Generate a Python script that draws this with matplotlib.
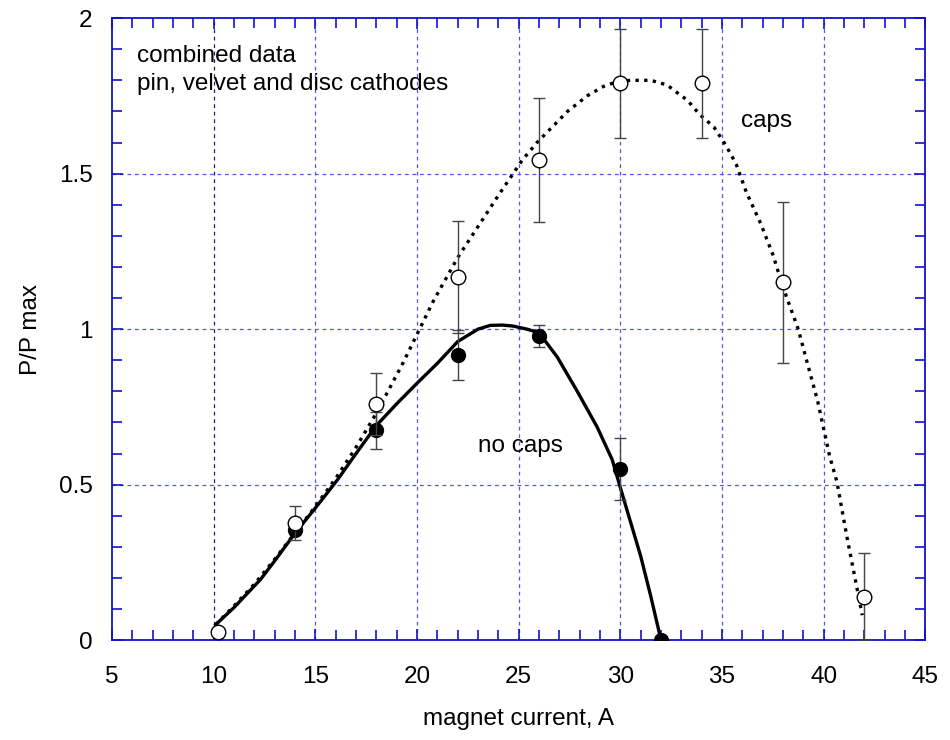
import matplotlib
matplotlib.use("Agg")
import matplotlib.pyplot as plt
from matplotlib.ticker import MultipleLocator, FixedLocator

plt.rcParams['font.family'] = ['Liberation Sans', 'DejaVu Sans']

# measured points
x_caps = [10.2, 14, 18, 22, 26, 30, 34, 38, 42]
y_caps = [0.026, 0.376, 0.76, 1.167, 1.543, 1.79, 1.79, 1.15, 0.14]
err_caps = [0.0, 0.055, 0.10, 0.18, 0.20, 0.175, 0.175, 0.26, 0.14]

x_nocaps = [14, 18, 22, 26, 30, 32]
y_nocaps = [0.354, 0.675, 0.916, 0.977, 0.55, 0.0]
err_nocaps = [0.0, 0.06, 0.08, 0.035, 0.10, 0.0]

# fitted curves
fit_caps_x = [10.1, 11, 12, 13, 14, 15, 16, 17, 18, 19.3, 20.8, 22, 23, 24, 24.58, 25.17,
              25.9, 26.65, 27.4, 28.37, 29.16, 29.8, 30.5, 31.5, 32.3, 32.8, 33.3, 33.9, 34.6,
              35.2, 35.7, 36.2, 36.9, 37.5, 38, 38.75, 39.2, 39.7, 40.3, 40.65, 41.15, 41.6, 41.9]
fit_caps_y = [0.05, 0.11, 0.18, 0.26, 0.345, 0.43, 0.52, 0.62, 0.73, 0.89, 1.09, 1.23, 1.33, 1.43, 1.486, 1.543,
              1.60, 1.65, 1.70, 1.75, 1.78, 1.795, 1.80, 1.80, 1.785, 1.76, 1.736, 1.69, 1.65,
              1.59, 1.53, 1.44, 1.34, 1.24, 1.135, 1.0, 0.89, 0.77, 0.59, 0.51, 0.33, 0.18, 0.08]

fit_nocaps_x = [10.1, 11, 12.3, 13, 14, 15, 16.07, 17, 18, 19, 20, 21, 22, 23, 23.6, 24.2, 24.7,
                25.4, 26, 26.9, 27.88, 28.86, 29.6, 30, 30.5, 31, 31.5, 32]
fit_nocaps_y = [0.05, 0.105, 0.195, 0.255, 0.344, 0.425, 0.514, 0.60, 0.69, 0.76, 0.826, 0.89, 0.96, 1.0, 1.012, 1.013, 1.01,
                1.0, 0.988, 0.91, 0.80, 0.685, 0.58, 0.49, 0.38, 0.27, 0.14, 0.0]

xticks = [5, 10, 15, 20, 25, 30, 35, 40, 45]
yticks = [0, 0.5, 1, 1.5, 2]
ytick_labels = ['0', '0.5', '1', '1.5', '2']

blue = '#1010d0'
grid_blue = '#5555ea'
FS = 17.5

fig = plt.figure(figsize=(9.5, 7.4), dpi=100)
ax = fig.add_axes([0.118, 0.135, 0.856, 0.8405])
ax.set_xlim(5, 45)
ax.set_ylim(0, 2)

# grid
for gx in [10, 15, 20, 25, 30, 35, 40]:
    ax.axvline(gx, color=grid_blue if gx != 10 else '#20205a', lw=0.9, ls=(0, (3, 3)), zorder=1)
for gy in [0.5, 1.0, 1.5]:
    ax.axhline(gy, color=grid_blue, lw=0.9, ls=(0, (3, 3)), zorder=1)

ax.plot(fit_caps_x, fit_caps_y, color='black', lw=2.4, ls=(0, (1, 1.6)), zorder=3)
ax.plot(fit_nocaps_x, fit_nocaps_y, color='black', lw=2.4, zorder=3)

ax.errorbar(x_nocaps, y_nocaps, yerr=err_nocaps, fmt='o', color='black', ms=10,
            mfc='black', mec='black', ecolor='#444444', elinewidth=1, capsize=4, zorder=4)
ax.errorbar(x_caps, y_caps, yerr=err_caps, fmt='o', color='black', ms=10.5,
            mfc='white', mec='black', mew=1, ecolor='#444444', elinewidth=1, capsize=4, zorder=5)

ax.xaxis.set_major_locator(FixedLocator(xticks))
ax.set_xticklabels([str(t) for t in xticks])
ax.yaxis.set_major_locator(FixedLocator(yticks))
ax.set_yticklabels(ytick_labels)
ax.xaxis.set_minor_locator(MultipleLocator(1))
ax.yaxis.set_minor_locator(MultipleLocator(0.1))
ax.tick_params(which='both', direction='in', top=True, right=True, color=blue,
               width=1.2, labelsize=FS, labelcolor='black')
ax.tick_params(which='major', length=8)
ax.tick_params(axis='x', which='major', pad=19)
ax.tick_params(axis='y', which='major', pad=14)
ax.tick_params(which='minor', length=7)
for s in ax.spines.values():
    s.set_color(blue)
    s.set_linewidth(1.3)

ax.set_xlabel('magnet current, A', fontsize=FS, labelpad=14)
ax.set_ylabel('P/P max', fontsize=FS, labelpad=12)

ax.text(6.23, 1.858, 'combined data', fontsize=FS, va='baseline', ha='left')
ax.text(6.23, 1.768, 'pin, velvet and disc cathodes', fontsize=FS, va='baseline', ha='left')
ax.text(23.0, 0.605, 'no caps', fontsize=FS, va='baseline')
ax.text(35.95, 1.65, 'caps', fontsize=FS, va='baseline')

fig.savefig('out.png', dpi=100)
